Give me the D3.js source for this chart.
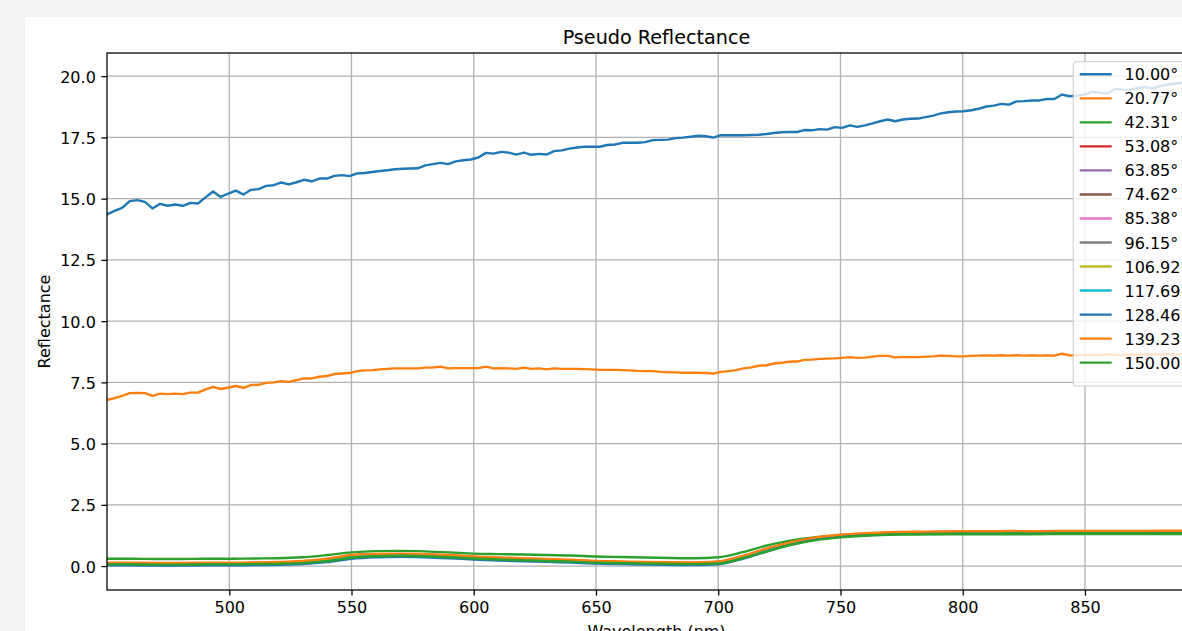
<!DOCTYPE html>
<html>
<head>
<meta charset="utf-8">
<script src="https://cdn.jsdelivr.net/npm/d3@7"></script>
<style>
  html, body { margin: 0; padding: 0; background: #f2f2f2; overflow: hidden; }
  svg { display: block; font-family: "DejaVu Sans", sans-serif; }
</style>
</head>
<body>
<svg id="chart" width="1182" height="631"></svg>
<script>
// Band centres (nm) of the sampled spectra
const wavelengths = [450.0,453.1,456.2,459.3,462.4,465.5,468.6,471.7,474.8,477.9,481.0,484.1,487.2,490.3,493.4,496.5,499.6,502.7,505.8,508.9,
  512.0,515.1,518.2,521.3,524.4,527.5,530.6,533.7,536.8,539.9,543.0,546.1,549.2,552.3,555.4,558.5,561.6,564.7,567.8,570.9,
  574.0,577.1,580.2,583.3,586.4,589.5,592.6,595.7,598.8,601.9,605.0,608.1,611.2,614.3,617.4,620.5,623.6,626.7,629.8,632.9,
  636.0,639.1,642.2,645.3,648.4,651.5,654.6,657.7,660.8,663.9,667.0,670.1,673.2,676.3,679.4,682.5,685.6,688.7,691.8,694.9,
  698.0,701.1,704.2,707.3,710.4,713.5,716.6,719.7,722.8,725.9,729.0,732.1,735.2,738.3,741.4,744.5,747.6,750.7,753.8,756.9,
  760.0,763.1,766.2,769.3,772.4,775.5,778.6,781.7,784.8,787.9,791.0,794.1,797.2,800.3,803.4,806.5,809.6,812.7,815.8,818.9,
  822.0,825.1,828.2,831.3,834.4,837.5,840.6,843.7,846.8,849.9,853.0,856.1,859.2,862.3,865.4,868.5,871.6,874.7,877.8,880.9,
  884.0,887.1,890.2,893.3,896.4,899.5];

// Reflectance at 10.00° and 20.77°
const refl10 = [14.36,14.50,14.62,14.90,14.94,14.87,14.60,14.79,14.71,14.76,
  14.71,14.83,14.80,15.05,15.29,15.07,15.21,15.33,15.17,15.36,
  15.39,15.52,15.55,15.66,15.58,15.67,15.77,15.71,15.82,15.82,
  15.93,15.96,15.92,16.03,16.05,16.09,16.13,16.16,16.20,16.22,
  16.23,16.24,16.36,16.41,16.46,16.41,16.52,16.57,16.60,16.68,
  16.87,16.84,16.91,16.88,16.80,16.88,16.79,16.83,16.80,16.94,
  16.97,17.04,17.09,17.12,17.12,17.12,17.19,17.21,17.28,17.28,
  17.28,17.31,17.39,17.40,17.41,17.47,17.49,17.53,17.57,17.55,
  17.49,17.59,17.59,17.59,17.59,17.60,17.61,17.64,17.68,17.71,
  17.72,17.72,17.80,17.79,17.84,17.82,17.92,17.89,17.99,17.93,
  17.99,18.07,18.16,18.23,18.16,18.23,18.26,18.27,18.33,18.39,
  18.48,18.53,18.56,18.57,18.61,18.67,18.76,18.80,18.87,18.84,
  18.97,18.98,19.01,19.01,19.07,19.07,19.25,19.18,19.20,19.25,
  19.36,19.33,19.29,19.48,19.45,19.44,19.52,19.56,19.50,19.60,
  19.66,19.70,19.74,19.80,19.88,19.95];

const refl20 = [6.78,6.86,6.95,7.06,7.07,7.06,6.95,7.04,7.02,7.04,
  7.02,7.08,7.08,7.21,7.32,7.23,7.29,7.35,7.28,7.39,
  7.40,7.48,7.50,7.55,7.52,7.59,7.66,7.66,7.73,7.76,
  7.84,7.86,7.88,7.96,7.99,8.00,8.03,8.05,8.07,8.07,
  8.07,8.07,8.10,8.11,8.14,8.07,8.08,8.08,8.08,8.08,
  8.14,8.07,8.08,8.07,8.05,8.10,8.05,8.07,8.03,8.07,
  8.05,8.05,8.05,8.04,8.03,8.01,8.01,8.01,8.00,7.99,
  7.97,7.96,7.96,7.93,7.92,7.91,7.89,7.89,7.89,7.88,
  7.86,7.93,7.96,8.00,8.07,8.11,8.18,8.20,8.27,8.30,
  8.34,8.35,8.42,8.43,8.46,8.47,8.48,8.50,8.53,8.50,
  8.51,8.55,8.58,8.58,8.52,8.53,8.53,8.53,8.55,8.56,
  8.59,8.58,8.56,8.56,8.58,8.59,8.60,8.59,8.61,8.59,
  8.61,8.59,8.60,8.59,8.60,8.59,8.67,8.60,8.62,8.61,
  8.63,8.62,8.65,8.63,8.62,8.64,8.63,8.65,8.64,8.66,
  8.65,8.64,8.66,8.65,8.67,8.66];

// Wider angles: smooth, sampled every 10 nm
const wavelengthsCoarse = [450,460,470,480,490,500,510,520,530,540,550,560,570,580,590,600,610,620,630,640,
  650,660,670,680,690,700,710,720,730,740,750,760,770,780,790,800,810,820,830,840,850,860,870,880,890,900];

const refl42 = [0.30,0.30,0.29,0.29,0.30,0.30,0.31,0.32,0.36,0.45,
  0.56,0.61,0.62,0.60,0.56,0.51,0.49,0.47,0.45,0.43,
  0.39,0.37,0.35,0.33,0.32,0.36,0.57,0.84,1.05,1.18,
  1.25,1.28,1.29,1.30,1.30,1.30,1.30,1.30,1.30,1.31,
  1.31,1.31,1.31,1.31,1.31,1.31];
const refl53 = [0.12,0.12,0.11,0.11,0.12,0.12,0.13,0.15,0.19,0.28,
  0.43,0.48,0.49,0.47,0.43,0.37,0.33,0.30,0.27,0.24,
  0.19,0.17,0.15,0.14,0.13,0.17,0.40,0.70,0.96,1.15,
  1.26,1.32,1.36,1.38,1.39,1.40,1.40,1.41,1.40,1.41,
  1.41,1.41,1.41,1.42,1.42,1.42];
const refl64 = [0.11,0.11,0.10,0.10,0.11,0.11,0.12,0.14,0.18,0.27,
  0.42,0.47,0.48,0.46,0.42,0.36,0.32,0.29,0.26,0.23,
  0.18,0.16,0.14,0.13,0.12,0.16,0.39,0.69,0.95,1.14,
  1.25,1.31,1.35,1.37,1.38,1.39,1.39,1.40,1.39,1.40,
  1.40,1.40,1.40,1.41,1.41,1.41];
const refl75 = [0.10,0.10,0.09,0.09,0.10,0.10,0.11,0.13,0.17,0.26,
  0.41,0.46,0.47,0.45,0.41,0.35,0.31,0.28,0.25,0.22,
  0.17,0.15,0.13,0.12,0.11,0.15,0.38,0.68,0.94,1.13,
  1.24,1.30,1.34,1.36,1.37,1.38,1.38,1.39,1.38,1.39,
  1.39,1.39,1.39,1.40,1.40,1.40];
const refl85 = [0.10,0.10,0.09,0.09,0.10,0.10,0.11,0.12,0.16,0.25,
  0.40,0.45,0.46,0.44,0.40,0.34,0.30,0.27,0.24,0.21,
  0.16,0.14,0.12,0.11,0.10,0.14,0.37,0.67,0.93,1.12,
  1.23,1.29,1.33,1.35,1.36,1.37,1.37,1.38,1.37,1.38,
  1.38,1.38,1.38,1.39,1.39,1.39];
const refl96 = [0.09,0.09,0.08,0.08,0.09,0.09,0.10,0.11,0.15,0.24,
  0.39,0.44,0.45,0.43,0.39,0.34,0.30,0.27,0.24,0.21,
  0.16,0.14,0.12,0.11,0.10,0.13,0.36,0.66,0.92,1.11,
  1.22,1.28,1.32,1.34,1.35,1.36,1.36,1.37,1.36,1.37,
  1.37,1.37,1.37,1.38,1.38,1.38];
const refl107 = [0.08,0.08,0.08,0.08,0.08,0.09,0.09,0.11,0.14,0.23,
  0.38,0.43,0.44,0.42,0.38,0.33,0.29,0.26,0.23,0.20,
  0.15,0.13,0.11,0.10,0.09,0.12,0.35,0.65,0.91,1.10,
  1.21,1.28,1.32,1.34,1.35,1.36,1.36,1.36,1.36,1.37,
  1.37,1.37,1.37,1.37,1.37,1.37];
const refl118 = [0.08,0.08,0.07,0.07,0.08,0.08,0.09,0.10,0.13,0.22,
  0.37,0.42,0.43,0.41,0.37,0.32,0.28,0.25,0.22,0.19,
  0.15,0.13,0.11,0.10,0.09,0.11,0.34,0.64,0.90,1.09,
  1.20,1.27,1.31,1.33,1.34,1.35,1.35,1.35,1.35,1.36,
  1.36,1.36,1.36,1.36,1.36,1.36];
const refl128 = [0.03,0.03,0.02,0.02,0.03,0.03,0.04,0.05,0.08,0.16,
  0.30,0.36,0.38,0.36,0.32,0.27,0.23,0.20,0.17,0.14,
  0.10,0.08,0.06,0.05,0.04,0.07,0.30,0.60,0.90,1.10,
  1.22,1.29,1.33,1.35,1.36,1.37,1.37,1.37,1.37,1.38,
  1.38,1.38,1.38,1.38,1.38,1.38];
const refl139 = [0.14,0.14,0.13,0.13,0.14,0.14,0.15,0.17,0.21,0.30,
  0.45,0.50,0.51,0.49,0.45,0.39,0.35,0.32,0.29,0.26,
  0.21,0.19,0.17,0.16,0.15,0.19,0.42,0.72,0.98,1.17,
  1.28,1.34,1.38,1.40,1.41,1.42,1.42,1.43,1.42,1.43,
  1.43,1.43,1.43,1.44,1.44,1.44];
const refl150 = [0.07,0.07,0.06,0.06,0.07,0.07,0.08,0.09,0.12,0.20,
  0.34,0.40,0.42,0.40,0.36,0.31,0.27,0.24,0.21,0.18,
  0.14,0.12,0.10,0.09,0.08,0.10,0.32,0.60,0.87,1.06,
  1.17,1.24,1.28,1.30,1.31,1.32,1.32,1.32,1.32,1.33,
  1.33,1.33,1.33,1.33,1.33,1.33];

const angleLabels = ["10.00°","20.77°","42.31°","53.08°","63.85°","74.62°","85.38°","96.15°",
  "106.92°","117.69°","128.46°","139.23°","150.00°"];
const xTicks = [500, 550, 600, 650, 700, 750, 800, 850, 900];
const yTicks = [0, 2.5, 5, 7.5, 10, 12.5, 15, 17.5, 20];
const palette = ["#1f77b4","#ff7f0e","#2ca02c","#d62728","#9467bd","#8c564b","#e377c2",
  "#7f7f7f","#bcbd22","#17becf","#1f77b4","#ff7f0e","#2ca02c"];

const series = [
  { xs: wavelengths, ys: refl10, smooth: false },
  { xs: wavelengths, ys: refl20, smooth: false },
  { xs: wavelengthsCoarse, ys: refl42, smooth: true },
  { xs: wavelengthsCoarse, ys: refl53, smooth: true },
  { xs: wavelengthsCoarse, ys: refl64, smooth: true },
  { xs: wavelengthsCoarse, ys: refl75, smooth: true },
  { xs: wavelengthsCoarse, ys: refl85, smooth: true },
  { xs: wavelengthsCoarse, ys: refl96, smooth: true },
  { xs: wavelengthsCoarse, ys: refl107, smooth: true },
  { xs: wavelengthsCoarse, ys: refl118, smooth: true },
  { xs: wavelengthsCoarse, ys: refl128, smooth: true },
  { xs: wavelengthsCoarse, ys: refl139, smooth: true },
  { xs: wavelengthsCoarse, ys: refl150, smooth: true }
].map((s, i) => ({ ...s, label: angleLabels[i], color: palette[i],
  points: s.xs.map((w, j) => [w, s.ys[j]]) }));

// ---- layout ----
const W = 1182, H = 631;
const plot = { left: 107, top: 53, width: 1099, height: 537 };
const LW = 2.4, THIN = 1.28, FONT = 16;

const svg = d3.select("#chart");
svg.append("rect").attr("x", 25).attr("y", 17).attr("width", W - 25).attr("height", H - 17).attr("fill", "#ffffff");

const x = d3.scaleLinear().domain(d3.extent(wavelengths))
  .range([plot.left, plot.left + plot.width]);
const allValues = series.flatMap(s => s.ys);
const [vMin, vMax] = d3.extent(allValues);
const padV = (vMax - vMin) * 0.05;
const y = d3.scaleLinear().domain([vMin - padV, vMax + padV])
  .range([plot.top + plot.height, plot.top]);

// grid
const grid = svg.append("g");
grid.selectAll(".gx").data(xTicks).join("line")
  .attr("x1", d => x(d)).attr("x2", d => x(d))
  .attr("y1", plot.top).attr("y2", plot.top + plot.height)
  .attr("stroke", "#b0b0b0").attr("stroke-width", THIN);
grid.selectAll(".gy").data(yTicks).join("line")
  .attr("x1", plot.left).attr("x2", plot.left + plot.width)
  .attr("y1", d => y(d)).attr("y2", d => y(d))
  .attr("stroke", "#b0b0b0").attr("stroke-width", THIN);

// lines
svg.append("clipPath").attr("id", "plot-clip").append("rect")
  .attr("x", plot.left).attr("y", plot.top).attr("width", plot.width).attr("height", plot.height);
const linesG = svg.append("g").attr("clip-path", "url(#plot-clip)");
series.forEach(s => {
  const gen = d3.line().x(d => x(d[0])).y(d => y(d[1]))
    .curve(s.smooth ? d3.curveMonotoneX : d3.curveLinear);
  linesG.append("path").attr("d", gen(s.points))
    .attr("fill", "none").attr("stroke", s.color).attr("stroke-width", LW)
    .attr("stroke-linejoin", "round").attr("stroke-linecap", "square");
});

// frame
svg.append("rect").attr("x", plot.left).attr("y", plot.top)
  .attr("width", plot.width).attr("height", plot.height)
  .attr("fill", "none").attr("stroke", "#000").attr("stroke-width", THIN);

// axes
const xAxis = svg.append("g").attr("transform", `translate(0,${plot.top + plot.height})`)
  .call(d3.axisBottom(x).tickValues(xTicks).tickFormat(d3.format("d")).tickSize(5.6).tickPadding(5.6));
const yAxis = svg.append("g").attr("transform", `translate(${plot.left},0)`)
  .call(d3.axisLeft(y).tickValues(yTicks).tickFormat(d3.format(".1f")).tickSize(5.6).tickPadding(5.6));
[xAxis, yAxis].forEach(a => {
  a.select(".domain").remove();
  a.selectAll(".tick line").attr("stroke", "#000").attr("stroke-width", THIN);
  a.selectAll(".tick text").attr("fill", "#000").attr("font-size", FONT)
    .attr("font-family", "DejaVu Sans, sans-serif");
});
yAxis.selectAll(".tick text").attr("dy", "0.38em");

// titles
svg.append("text").attr("x", plot.left + plot.width / 2).attr("y", 44)
  .attr("text-anchor", "middle").attr("font-size", 19.2).attr("fill", "#000")
  .text("Pseudo Reflectance");
svg.append("text").attr("x", plot.left + plot.width / 2).attr("y", 637)
  .attr("text-anchor", "middle").attr("font-size", FONT).attr("fill", "#000")
  .text("Wavelength (nm)");
svg.append("text").attr("transform", `translate(50,${plot.top + plot.height / 2}) rotate(-90)`)
  .attr("text-anchor", "middle").attr("font-size", FONT).attr("fill", "#000")
  .text("Reflectance");

// legend
const legend = svg.append("g").attr("transform", "translate(1073.3,61.7)");
legend.append("rect").attr("width", 125).attr("height", 324.5).attr("rx", 3.2)
  .attr("fill", "#fff").attr("fill-opacity", 0.8)
  .attr("stroke", "#cccccc").attr("stroke-opacity", 0.8).attr("stroke-width", THIN);
const rows = legend.selectAll(".row").data(series).join("g")
  .attr("transform", (d, i) => `translate(0,${12.6 + i * 24.03})`);
rows.append("line").attr("x1", 6.4).attr("x2", 38.4)
  .attr("stroke", d => d.color).attr("stroke-width", LW);
rows.append("text").attr("x", 51.2).attr("y", 6).attr("font-size", FONT).attr("fill", "#000")
  .text(d => d.label);
</script>
</body>
</html>
